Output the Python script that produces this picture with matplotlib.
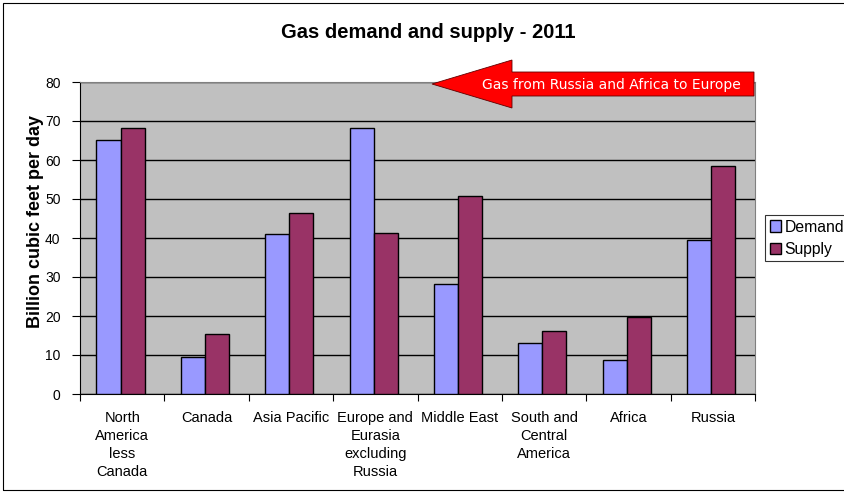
import numpy as np
import matplotlib.pyplot as plt
from matplotlib.patches import Polygon, Rectangle

plt.rcParams['font.family'] = ['Liberation Sans', 'DejaVu Sans']

regions = ["North\nAmerica\nless\nCanada", "Canada", "Asia Pacific",
           "Europe and\nEurasia\nexcluding\nRussia", "Middle East",
           "South and\nCentral\nAmerica", "Africa", "Russia"]
demand = [65.1, 9.4, 41.1, 68.1, 28.1, 13.2, 8.7, 39.5]
supply = [68.1, 15.5, 46.3, 41.4, 50.7, 16.2, 19.7, 58.5]

fig = plt.figure(figsize=(8.44, 4.93), dpi=100)
ax = fig.add_axes([80/844, 1-394/493, 675/844, 312/493])
ax.set_facecolor('#C0C0C0')

x = np.arange(len(regions))
w = 0.285
ax.bar(x - w/2 - 0.02, demand, w, color='#9999FF', edgecolor='black', lw=1, label='Demand', zorder=3)
ax.bar(x + w/2 - 0.02, supply, w, color='#993366', edgecolor='black', lw=1, label='Supply', zorder=3)

ax.set_xlim(-0.5, len(regions) - 0.5)
ax.set_ylim(0, 80)
ax.set_yticks(range(0, 81, 10))
ax.yaxis.grid(True, color='black', lw=1, zorder=1)
ax.set_axisbelow(True)

# category boundaries get the tick marks, names sit in between
ax.set_xticks(np.arange(-0.5, len(regions), 1))
ax.set_xticklabels([])
ax.set_xticks(x, minor=True)
ax.set_xticklabels(regions, minor=True, fontsize=10.5, linespacing=1.38)
ax.tick_params(axis='x', which='major', length=5, color='black')
ax.tick_params(axis='x', which='minor', length=0, pad=12)
ax.tick_params(axis='y', length=6, labelsize=10, pad=8)
for s in ['top', 'right']:
    ax.spines[s].set_color('#808080')
for s in ['left', 'bottom']:
    ax.spines[s].set_color('black')

ax.set_ylabel('Billion cubic feet per day', fontsize=13, fontweight='bold')
ax.yaxis.set_label_coords(-36/675, (394-222)/312)
fig.text(428/844, 1-32/493, 'Gas demand and supply - 2011', ha='center', va='center',
         fontsize=14.5, fontweight='bold')

# red arrow pointing left across the top of the plot
px = lambda v: v/844
py = lambda v: 1 - v/493
arrow = Polygon([(px(432), py(84)), (px(512), py(60)), (px(512), py(72)), (px(754), py(72)),
                 (px(754), py(96)), (px(512), py(96)), (px(512), py(108))],
                closed=True, transform=fig.transFigure, facecolor='#FF0000',
                edgecolor='#600000', lw=0.6, zorder=5)
fig.patches.append(arrow)
fig.text(px(611), py(85), 'Gas from Russia and Africa to Europe', color='white',
         ha='center', va='center', fontsize=10, family='DejaVu Sans', zorder=6)

leg = ax.legend(loc='upper left', bbox_to_anchor=(765/844, 1-215/493),
                bbox_transform=fig.transFigure, frameon=True, fancybox=False,
                edgecolor='black', fontsize=11.3, handlelength=0.75, handleheight=0.75,
                handletextpad=0.2, borderpad=0.3, labelspacing=0.45, borderaxespad=0)
leg.get_frame().set_linewidth(0.8)

fig.patches.append(Rectangle((3/844, 1-490/493), 845/844, 487/493, transform=fig.transFigure,
                             fill=False, edgecolor='black', lw=0.8))

fig.savefig('out.png', dpi=100)
